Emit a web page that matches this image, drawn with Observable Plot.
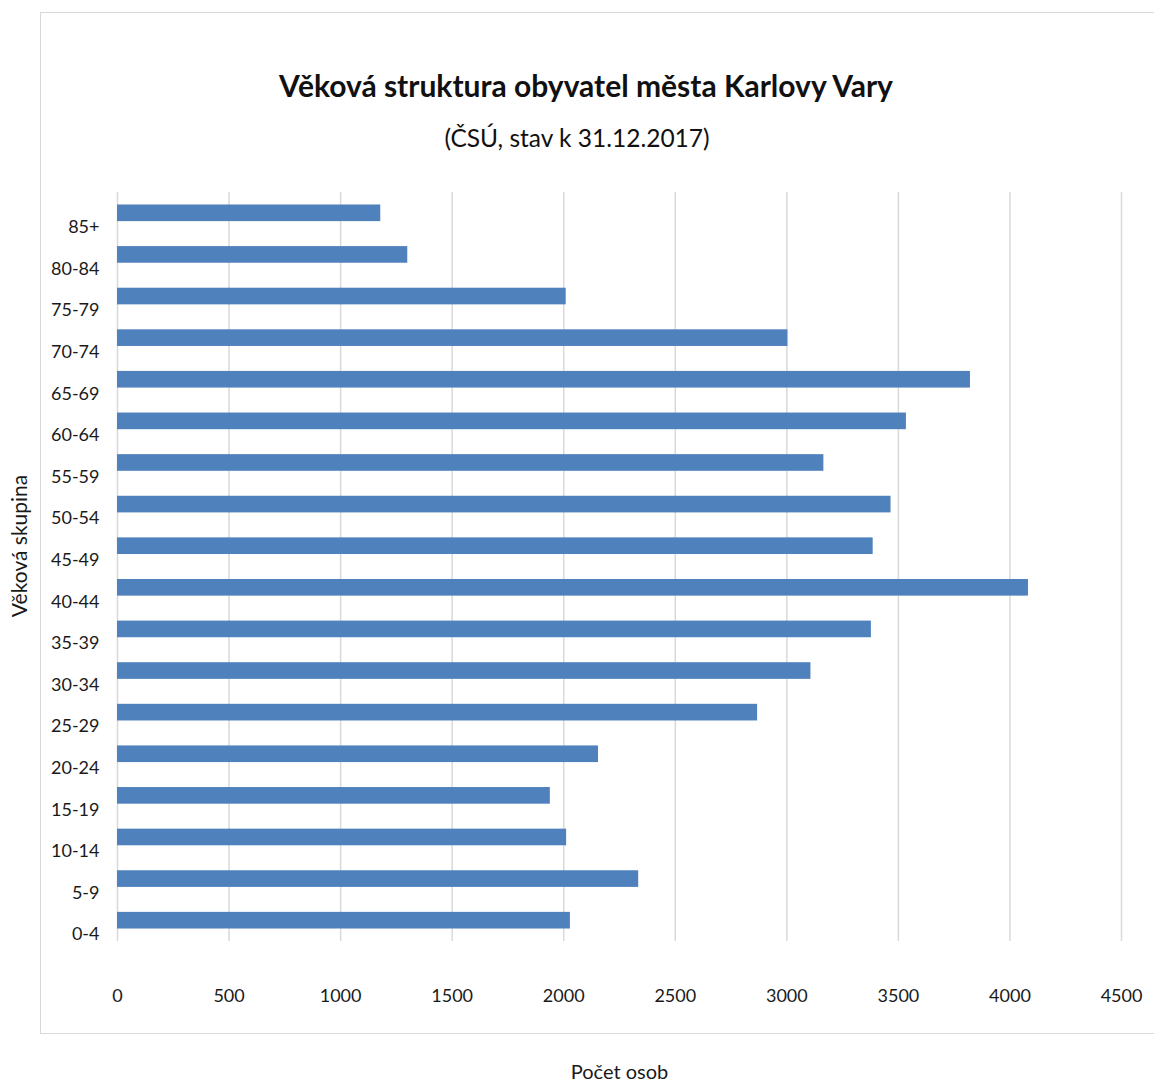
<!DOCTYPE html>
<html><head><meta charset="utf-8">
<script src="https://cdn.jsdelivr.net/npm/d3@7"></script>
<script src="https://cdn.jsdelivr.net/npm/@observablehq/plot@0.6"></script>
<style>
body{margin:0;background:#fff;font-family:Lato,"Open Sans",sans-serif;}
#wrap{position:relative;width:1154px;height:1084px;overflow:hidden;}
#frame{position:absolute;left:40px;top:12px;width:1130px;height:1022px;border:1.5px solid #d9d9d9;box-sizing:border-box;}
#title{position:absolute;left:40px;width:1092px;top:66px;text-align:center;font-weight:bold;font-size:30px;line-height:38px;color:#111;}
#subtitle{position:absolute;left:40px;width:1074px;top:122px;text-align:center;font-size:24.5px;line-height:32px;color:#111;}
#chart{position:absolute;left:0;top:170px;}
</style>
</head><body>
<div id="wrap">
  <div id="frame"></div>
  <div id="title">Věková struktura obyvatel města Karlovy Vary</div>
  <div id="subtitle">(ČSÚ, stav k 31.12.2017)</div>
  <div id="chart"></div>
</div>
<script>
const ageGroups = ["0-4","5-9","10-14","15-19","20-24","25-29","30-34","35-39","40-44","45-49","50-54","55-59","60-64","65-69","70-74","75-79","80-84","85+"];
const population = [2030, 2336, 2013, 1940, 2156, 2869, 3108, 3379, 4083, 3387, 3467, 3166, 3536, 3823, 3005, 2011, 1301, 1180];
const xTicks = [0, 500, 1000, 1500, 2000, 2500, 3000, 3500, 4000, 4500];
const xTitle = "Počet osob";
const yTitle = "Věková skupina";

const data = ageGroups.map((g, i) => ({group: g, value: population[i]}));

const chart = Plot.plot({
  width: 1154,
  height: 914,
  marginLeft: 117,
  marginRight: 33,
  marginTop: 22,
  marginBottom: 143,
  style: {fontFamily: "Lato, 'Open Sans', sans-serif", fontSize: "18px", color: "#1a1a1a", background: "transparent", overflow: "visible"},
  x: {domain: [0, 4500]},
  y: {domain: ageGroups.slice().reverse(), paddingInner: 0.6, paddingOuter: 0.3, round: false},
  marks: [
    Plot.gridX(xTicks, {stroke: "#d9d9d9", strokeOpacity: 1, strokeWidth: 1.5}),
    Plot.barX(data, {x: "value", y: "group", fill: "#4f81bd"}),
    Plot.axisX(xTicks, {tickSize: 0, tickPadding: 48, fontSize: 18, tickFormat: d => String(d), label: null}),
    Plot.axisY({tickSize: 0, tickPadding: 18, dy: 14, fontSize: 18, label: null}),
    Plot.text([yTitle], {text: d => d, frameAnchor: "left", rotate: -90, dx: -97, dy: -21, fontSize: 21, textAnchor: "middle", lineAnchor: "middle", fill: "#1a1a1a"}),
    Plot.text([xTitle], {text: d => d, frameAnchor: "bottom", dy: 131, fontSize: 20, textAnchor: "middle", lineAnchor: "middle", fill: "#1a1a1a"})
  ]
});
document.getElementById("chart").appendChild(chart);
</script>
</body></html>
